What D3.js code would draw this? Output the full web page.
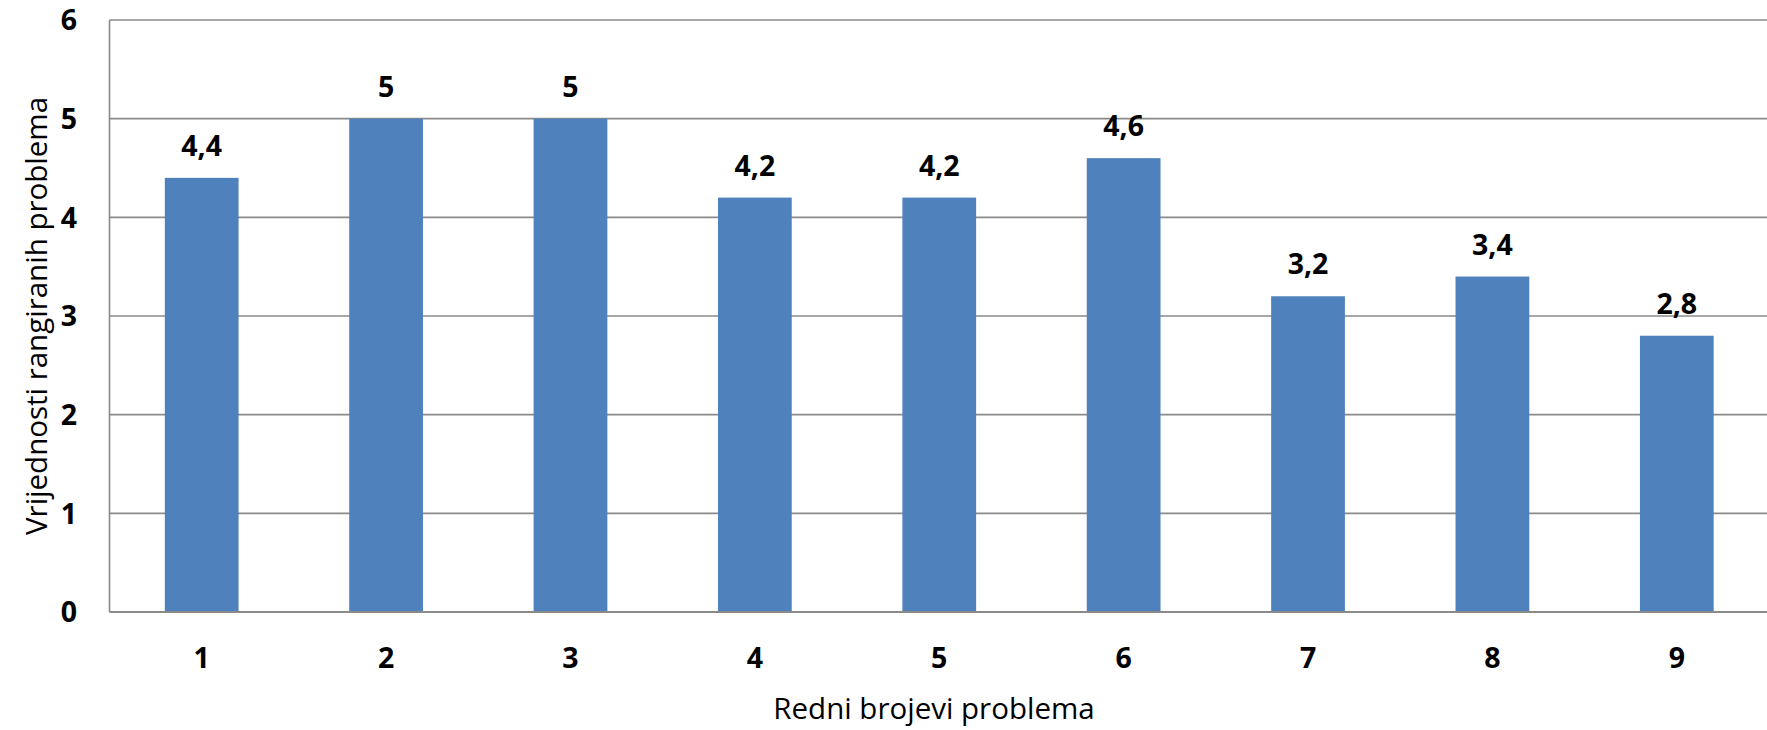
<!DOCTYPE html>
<html>
<head>
<meta charset="utf-8">
<script src="https://cdn.jsdelivr.net/npm/d3@7"></script>
<style>
  html, body { margin: 0; padding: 0; background: #fff; }
  svg { display: block; }
  text { font-family: "Open Sans", Lato, sans-serif; fill: #000; }
</style>
</head>
<body>
<svg id="chart" width="1767" height="730"></svg>
<script>
const categories = ["1", "2", "3", "4", "5", "6", "7", "8", "9"];
const values = [4.4, 5, 5, 4.2, 4.2, 4.6, 3.2, 3.4, 2.8];
const yTicks = [0, 1, 2, 3, 4, 5, 6];
const xTitle = "Redni brojevi problema";
const yTitle = "Vrijednosti rangiranih problema";

const svg = d3.select("#chart");
const plotL = 109.5, plotR = 1769, plotT = 20, plotB = 612;

const x = d3.scaleBand().domain(categories).range([plotL, plotR]).paddingInner(0.6).paddingOuter(0.3);
const y = d3.scaleLinear().domain([0, 6]).range([plotB, plotT]);

const fmt = v => String(v).replace(".", ",");

// gridlines
svg.append("g").selectAll("line").data(yTicks.filter(t => t > 0)).join("line")
  .attr("x1", plotL).attr("x2", 1767)
  .attr("y1", d => y(d)).attr("y2", d => y(d))
  .attr("stroke", "#8a8a8a").attr("stroke-width", 1.6);

// bars
svg.append("g").selectAll("rect").data(values).join("rect")
  .attr("x", (d, i) => x(categories[i]))
  .attr("width", x.bandwidth())
  .attr("y", d => y(d))
  .attr("height", d => y(0) - y(d))
  .attr("fill", "#4F81BD");

// axes lines
svg.append("line").attr("x1", plotL).attr("x2", plotL).attr("y1", plotT).attr("y2", plotB)
  .attr("stroke", "#8a8a8a").attr("stroke-width", 1.6);
svg.append("line").attr("x1", plotL).attr("x2", 1767).attr("y1", plotB).attr("y2", plotB)
  .attr("stroke", "#8a8a8a").attr("stroke-width", 1.8);

// y tick labels
svg.append("g").selectAll("text").data(yTicks).join("text")
  .attr("x", 77).attr("y", d => y(d))
  .attr("dy", "0.36em")
  .attr("text-anchor", "end")
  .attr("font-size", 28.5).attr("font-weight", "bold")
  .text(d => d);

// x tick labels
svg.append("g").selectAll("text").data(categories).join("text")
  .attr("x", d => x(d) + x.bandwidth() / 2).attr("y", 658)
  .attr("dy", "0.36em")
  .attr("text-anchor", "middle")
  .attr("font-size", 28.5).attr("font-weight", "bold")
  .text(d => d);

// value labels
svg.append("g").selectAll("text").data(values).join("text")
  .attr("x", (d, i) => x(categories[i]) + x.bandwidth() / 2)
  .attr("y", d => y(d) - 22)
  .attr("text-anchor", "middle")
  .attr("font-size", 28.5).attr("font-weight", "bold")
  .text(d => fmt(d));

// axis titles
svg.append("text").attr("x", 934).attr("y", 708).attr("dy", "0.36em")
  .attr("text-anchor", "middle").attr("font-size", 29.5)
  .text(xTitle);
svg.append("text")
  .attr("transform", `translate(36, ${(plotT + plotB) / 2}) rotate(-90)`)
  .attr("dy", "0.36em")
  .attr("text-anchor", "middle").attr("font-size", 29.5)
  .text(yTitle);
</script>
</body>
</html>
